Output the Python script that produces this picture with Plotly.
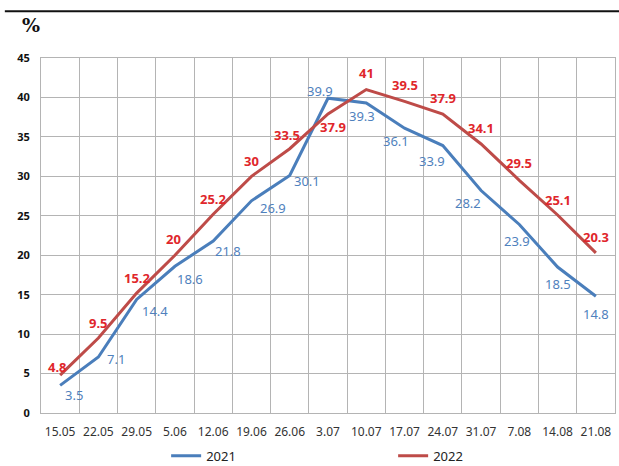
import plotly.graph_objects as go

weeks = ["15.05", "22.05", "29.05", "5.06", "12.06", "19.06", "26.06", "3.07",
         "10.07", "17.07", "24.07", "31.07", "7.08", "14.08", "21.08"]
rate_2021 = [3.5, 7.1, 14.4, 18.6, 21.8, 26.9, 30.1, 39.9, 39.3, 36.1, 33.9, 28.2, 23.9, 18.5, 14.8]
rate_2022 = [4.8, 9.5, 15.2, 20, 25.2, 30, 33.5, 37.9, 41, 39.5, 37.9, 34.1, 29.5, 25.1, 20.3]
y_ticks = [0, 5, 10, 15, 20, 25, 30, 35, 40, 45]

BLUE_LINE = "#4a7ebb"
RED_LINE = "#be4b48"
BLUE_TEXT = "#4f81bd"
RED_TEXT = "#e0262b"

# label offsets (px) from each point so the numbers clear the lines
off_2021 = [(14, 10), (18, 2), (18, 12), (15, 13), (15, 10), (22, 7), (17, 5),
            (-8, -7), (-4, 13), (-9, 13), (-11, 15), (-13, 12), (-2, 17), (0, 17), (0, 18)]
off_2022 = [(-3, -8), (0, -15), (0, -15), (-1, -16), (0, -15), (0, -15), (-3, -14),
            (5, 13), (0, -17), (0, -16), (0, -16), (0, -16), (0, -17), (0, -15), (0, -16)]

fig = go.Figure()
fig.add_trace(go.Scatter(x=weeks, y=rate_2021, mode="lines", name="2021",
                         line=dict(color=BLUE_LINE, width=3)))
fig.add_trace(go.Scatter(x=weeks, y=rate_2022, mode="lines", name="2022",
                         line=dict(color=RED_LINE, width=3)))

annotations = []
# category positions are given by index so numeric-looking labels stay categorical
for i, (v, (dx, dy)) in enumerate(zip(rate_2021, off_2021)):
    annotations.append(dict(x=i, y=v, xref="x", yref="y", text=f"{v:g}",
                            showarrow=False, xshift=dx, yshift=-dy,
                            font=dict(family="Noto Sans", size=13, color=BLUE_TEXT)))
for i, (v, (dx, dy)) in enumerate(zip(rate_2022, off_2022)):
    annotations.append(dict(x=i, y=v, xref="x", yref="y", text=f"<b>{v:g}</b>",
                            showarrow=False, xshift=dx, yshift=-dy,
                            font=dict(family="Noto Sans", size=13, color=RED_TEXT)))

annotations.append(dict(x=-0.018, y=1.092, xref="paper", yref="paper", text="<b>%</b>",
                        showarrow=False, xanchor="center", yanchor="middle",
                        font=dict(family="DejaVu Serif", size=19, color="#111111")))

fig.update_layout(
    width=619, height=466,
    margin=dict(l=41, r=4, t=58, b=53, autoexpand=False),
    paper_bgcolor="white", plot_bgcolor="white",
    annotations=annotations,
    shapes=[dict(type="line", xref="paper", yref="paper", x0=-0.063, x1=1.01,
                 y0=1.1314, y1=1.1314, line=dict(color="#111111", width=2))],
    showlegend=True,
    legend=dict(orientation="h", x=0.218, y=-0.078, xanchor="left", yanchor="top",
                entrywidth=182, itemwidth=30,
                font=dict(family="Noto Sans", size=13, color="#222222")),
    xaxis=dict(type="category", range=[-0.5, 14.5], tickson="boundaries",
               showgrid=True, gridcolor="#b4b4b4", gridwidth=1,
               showline=True, linecolor="#b4b4b4", linewidth=1, mirror=True,
               ticks="", tickangle=0, ticklabelstandoff=8,
               tickfont=dict(family="Noto Sans", size=12, color="#333333"),
               fixedrange=True),
    yaxis=dict(range=[0, 45], tickvals=y_ticks,
               showgrid=True, gridcolor="#b4b4b4", gridwidth=1,
               showline=True, linecolor="#b4b4b4", linewidth=1, mirror=True,
               zeroline=False, ticks="", ticklabelstandoff=8,
               tickfont=dict(family="Noto Sans", size=11, color="#111111", weight="bold"),
               fixedrange=True),
)

fig.write_html("out.html")
